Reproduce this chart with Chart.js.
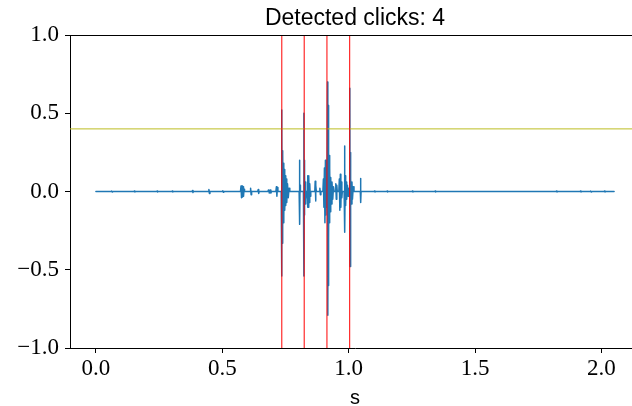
<!DOCTYPE html>
<html>
<head>
<meta charset="utf-8">
<script src="https://cdn.jsdelivr.net/npm/chart.js@4.4.0/dist/chart.umd.min.js"></script>
<style>
  html, body { margin: 0; padding: 0; background: #fff; overflow: hidden; }
  #wrap { width: 640px; height: 406px; }
</style>
</head>
<body>
<div id="wrap"><canvas id="clickChart" width="640" height="406"></canvas></div>
<script>
// 信号データ（時間[s] と 振幅）
const sigTime = [
  0.000, 0.060, 0.062, 0.064, 0.066, 0.150, 0.152, 0.154, 0.156, 0.240, 0.242, 0.244, 0.246,
  0.300, 0.302, 0.304, 0.306, 0.380, 0.382, 0.384, 0.386, 0.445, 0.447, 0.449, 0.451,
  0.500, 0.502, 0.504, 0.506,
  0.572, 0.574, 0.576, 0.578, 0.580, 0.582, 0.584, 0.586, 0.588,
  0.610, 0.612, 0.614, 0.616, 0.640, 0.642, 0.644, 0.646,
  0.680, 0.683, 0.686, 0.689, 0.692, 0.695, 0.712, 0.714, 0.716, 0.718, 0.720,
  0.733, 0.7345, 0.7352, 0.7360, 0.7368, 0.7378, 0.7388, 0.7400, 0.7412, 0.7425, 0.7440,
  0.7455, 0.747, 0.749, 0.751, 0.753, 0.755, 0.758, 0.761, 0.764, 0.767,
  0.804, 0.8055, 0.8065, 0.8075, 0.809,
  0.821, 0.8225, 0.8232, 0.824, 0.8248, 0.826, 0.8275, 0.829, 0.831, 0.833,
  0.836, 0.837, 0.838, 0.839, 0.840, 0.842, 0.844, 0.846, 0.848, 0.850,
  0.866, 0.8675, 0.869, 0.8705, 0.872, 0.884, 0.886, 0.888, 0.890,
  0.898, 0.900, 0.902, 0.904, 0.906, 0.908, 0.910, 0.912, 0.914,
  0.9165, 0.9175, 0.9185, 0.9195, 0.9205, 0.9215, 0.9225, 0.924, 0.9255, 0.927,
  0.929, 0.931, 0.934, 0.937, 0.940, 0.943,
  0.947, 0.949, 0.951, 0.953, 0.955,
  0.961, 0.963, 0.965, 0.967, 0.969, 0.971, 0.973, 0.975,
  0.982, 0.9835, 0.985, 0.9865, 0.988, 0.990, 0.992, 0.995, 0.998, 1.001,
  1.0035, 1.0045, 1.0055, 1.0065, 1.0075, 1.009, 1.011, 1.013, 1.015, 1.018, 1.021,
  1.046, 1.047, 1.048, 1.049,
  1.100, 1.102, 1.104, 1.106, 1.150, 1.152, 1.154, 1.156, 1.250, 1.252, 1.254, 1.256,
  1.340, 1.342, 1.344, 1.346, 1.820, 1.822, 1.824, 1.826, 1.915, 1.917, 1.919, 1.921,
  1.955, 1.957, 1.959, 1.961, 2.010, 2.012, 2.014, 2.016, 2.050
];
const sigAmp = [
  0, 0, 0.003, -0.003, 0, 0, 0.003, -0.003, 0, 0, 0.003, -0.003, 0,
  0, 0.003, -0.003, 0, 0, 0.006, -0.006, 0, 0, 0.012, -0.012, 0,
  0, 0.004, -0.004, 0,
  0, 0.035, -0.04, 0.035, -0.035, 0.03, -0.03, 0.015, 0,
  0, 0.02, -0.02, 0, 0, 0.012, -0.012, 0,
  0, 0.01, -0.01, 0.01, -0.01, 0, 0, 0.03, -0.03, 0.025, 0,
  0, 0.52, -0.54, 0.40, -0.33, 0.26, -0.26, 0.24, -0.20, 0.18, -0.16,
  0.14, -0.12, 0.10, -0.09, 0.08, -0.07, 0.05, -0.04, 0.02, 0,
  0, 0.20, -0.21, 0.04, 0,
  0, 0.50, -0.54, 0.20, -0.15, 0.10, -0.08, 0.06, -0.05, 0,
  0, 0.10, -0.10, 0.08, -0.10, 0.10, -0.07, 0.05, -0.03, 0,
  0, 0.066, -0.06, 0.04, 0, 0, 0.02, -0.02, 0,
  0, 0.08, -0.10, 0.15, -0.20, 0.20, -0.15, 0.12, -0.10,
  0.70, -0.79, 0.55, -0.60, 0.35, -0.30, 0.23, -0.20, 0.15, -0.13,
  0.09, -0.08, 0.06, -0.05, 0.03, 0,
  0, 0.05, -0.05, 0.04, 0,
  0, 0.08, -0.12, 0.11, -0.10, 0.06, -0.04, 0,
  0, 0.29, -0.26, 0.10, -0.09, 0.06, -0.05, 0.04, -0.03, 0.02,
  0, 0.66, -0.48, 0.25, -0.15, 0.08, -0.08, 0.06, -0.05, 0.03, 0,
  0, 0.083, -0.07, 0,
  0, 0.003, -0.003, 0, 0, 0.003, -0.003, 0, 0, 0.003, -0.003, 0,
  0, 0.003, -0.003, 0, 0, 0.003, -0.003, 0, 0, 0.003, -0.003, 0,
  0, 0.003, -0.003, 0, 0, 0.003, -0.003, 0, 0
];

// 検出したクリック位置としきい値
const clickTimes = [0.7354, 0.824, 0.914, 1.004];
const threshold = 0.4;

// 目盛り
const xTicks = [0.0, 0.5, 1.0, 1.5, 2.0];
const yTicks = [-1.0, -0.5, 0.0, 0.5, 1.0];
const xMin = -0.1025, xMax = 2.1525;

const fmt = v => v.toFixed(1).replace('-', '\u2212');

const clickSets = clickTimes.map(t => ({
  data: [{x: t, y: -1}, {x: t, y: 1}],
  borderColor: '#ff0000',
  borderWidth: 1,
  pointRadius: 0
}));

// 上側の枠線
const topSpine = {
  id: 'topSpine',
  afterDraw(chart) {
    const {ctx, chartArea} = chart;
    ctx.save();
    ctx.strokeStyle = '#000';
    ctx.lineWidth = 1;
    ctx.beginPath();
    ctx.moveTo(chartArea.left, Math.round(chartArea.top) + 0.5);
    ctx.lineTo(chartArea.right, Math.round(chartArea.top) + 0.5);
    ctx.stroke();
    ctx.restore();
  }
};

const ctx = document.getElementById('clickChart').getContext('2d');
const clickChart = new Chart(ctx, {
  type: 'line',
  data: {
    datasets: [
      ...clickSets,
      {
        data: [{x: xMin, y: threshold}, {x: xMax, y: threshold}],
        borderColor: '#bcbd22',
        borderWidth: 1,
        pointRadius: 0
      },
      {
        data: sigTime.map((t, i) => ({x: t, y: sigAmp[i]})),
        borderColor: '#1f77b4',
        borderWidth: 1.5,
        borderJoinStyle: 'round',
        borderCapStyle: 'round',
        pointRadius: 0,
        tension: 0
      }
    ]
  },
  options: {
    responsive: false,
    animation: false,
    devicePixelRatio: 1,
    layout: { padding: 0 },
    plugins: {
      legend: { display: false },
      tooltip: { enabled: false },
      title: {
        display: true,
        text: 'Detected clicks: 4',
        fullSize: false,
        color: '#000',
        font: { family: 'Liberation Sans', size: 23, weight: 'normal', lineHeight: 1.2 },
        padding: { top: 5, bottom: 2.4 }
      }
    },
    scales: {
      x: {
        type: 'linear',
        min: xMin,
        max: xMax,
        afterBuildTicks: s => { s.ticks = xTicks.map(v => ({value: v})); },
        afterFit: s => { s.height = 58; },
        ticks: {
          color: '#000',
          padding: 2,
          maxRotation: 0,
          font: { family: 'Liberation Serif', size: 23 },
          callback: v => fmt(v)
        },
        grid: { drawOnChartArea: false, drawTicks: true, tickLength: 5, tickColor: '#000', tickWidth: 1 },
        border: { display: true, color: '#000', width: 1 },
        title: {
          display: true,
          text: 's',
          color: '#000',
          font: { family: 'Liberation Sans', size: 20, lineHeight: 0.8 },
          padding: 0
        }
      },
      y: {
        min: -1,
        max: 1,
        afterBuildTicks: s => { s.ticks = yTicks.map(v => ({value: v})); },
        afterFit: s => { s.width = 70; },
        ticks: {
          color: '#000',
          padding: 6,
          font: { family: 'Liberation Serif', size: 23 },
          callback: v => fmt(v)
        },
        grid: { drawOnChartArea: false, drawTicks: true, tickLength: 5, tickColor: '#000', tickWidth: 1 },
        border: { display: true, color: '#000', width: 1 }
      }
    }
  },
  plugins: [topSpine]
});
</script>
</body>
</html>
